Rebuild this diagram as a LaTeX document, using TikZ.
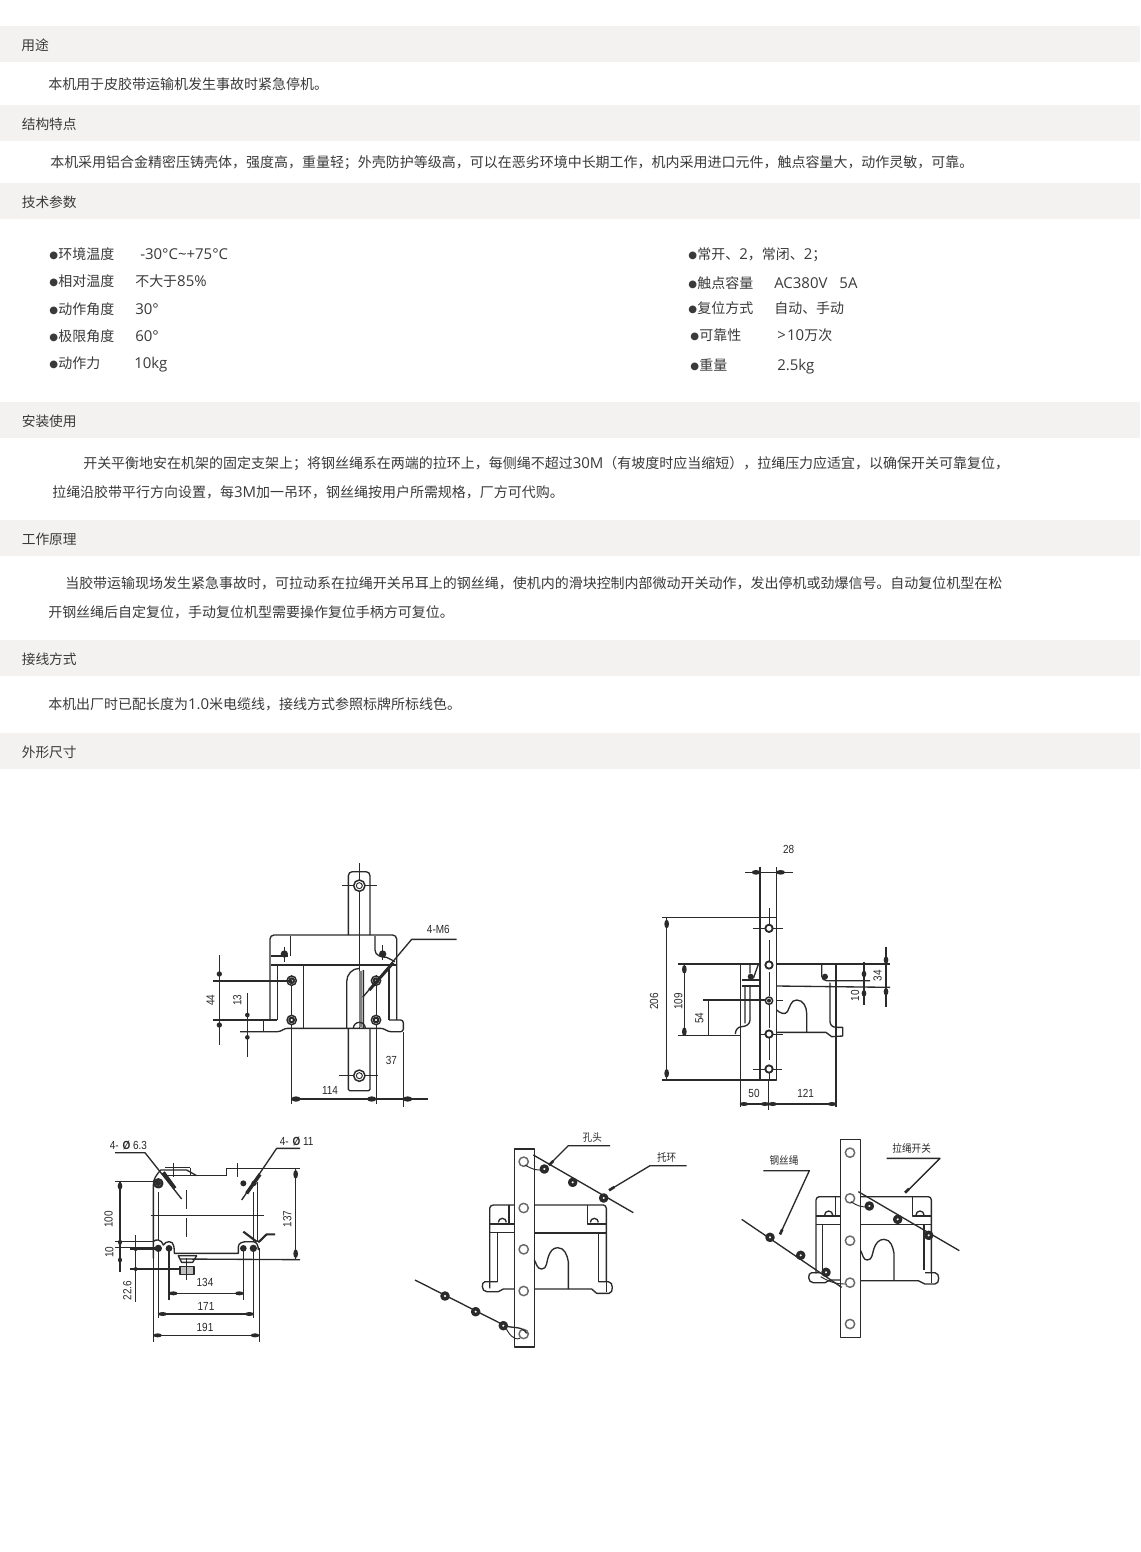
\documentclass[tikz,border=0pt]{standalone}
\usepackage{fontspec}
\setmainfont{Noto Sans CJK SC}
\newfontfamily\lat[Scale=1.07]{Open Sans}
\newfontfamily\sym[Scale=0.72]{DejaVu Sans}
\newfontfamily\dimf[FakeStretch=0.85]{Liberation Sans}
\newfontfamily\dimc{Noto Sans CJK SC}
\newcommand{\La}[1]{{\lat #1}}
\newcommand{\Bu}{\raisebox{.8pt}{\sym ●}\hspace{.2pt}}
\usetikzlibrary{arrows.meta}
\definecolor{band}{HTML}{F3F2F1}
\definecolor{txt}{HTML}{3A3A3A}
\definecolor{ink}{HTML}{2A2A2A}
\tikzset{
  headband/.style={fill=band,draw=none},
  headtxt/.style={anchor=base west,yshift=-3.8pt,inner sep=0pt,text=txt,font=\fontsize{10.3}{12}\selectfont},
  bodytxt/.style={anchor=base west,yshift=-4.3pt,inner sep=0pt,text=txt,font=\fontsize{10.49}{12}\selectfont},
  dwg/.style={x=.25pt,y=-.25pt,line width=1pt,draw=ink,line join=round},
  thin line/.style={line width=.7pt},
  dimlab/.style={inner sep=0pt,text=ink,font=\dimf\fontsize{8.8}{10}\selectfont},
  cnlab/.style={inner sep=0pt,text=ink,font=\dimc\fontsize{8}{9}\selectfont,xscale=.9},
  hole/.style={line width=1.1pt,fill=white},
  knot/.style={line width=2.6pt,fill=white},
}
\begin{document}
\begin{tikzpicture}[x=.75pt,y=-.75pt]
\useasboundingbox (0,0) rectangle (1140,1552);
\fill[white] (0,0) rectangle (1140,1552);
% ---------- bands
\foreach \y in {26,105,183,402,520,640,733} \fill[headband] (0,\y) rectangle (1140,\y+36);
\node[headtxt] (h1) at (21,45) {用途};
\node[headtxt] (h2) at (21.5,124) {结构特点};
\node[headtxt] (h3) at (21.5,202) {技术参数};
\node[headtxt] (h4) at (21.5,421) {安装使用};
\node[headtxt] (h5) at (21.5,539) {工作原理};
\node[headtxt] (h6) at (21.5,659) {接线方式};
\node[headtxt] (h7) at (21.5,752) {外形尺寸};
% ---------- body
\node[bodytxt] (b1) at (48,84) {本机用于皮胶带运输机发生事故时紧急停机。};
\node[bodytxt] (b2) at (50,162) {本机采用铝合金精密压铸壳体，强度高，重量轻；外壳防护等级高，可以在恶劣环境中长期工作，机内采用进口元件，触点容量大，动作灵敏，可靠。};
\node[bodytxt] (b3) at (83,463) {开关平衡地安在机架的固定支架上；将钢丝绳系在两端的拉环上，每侧绳不超过\La{30M}（有坡度时应当缩短），拉绳压力应适宜，以确保开关可靠复位，};
\node[bodytxt] (b4) at (52,492) {拉绳沿胶带平行方向设置，每\La{3M}加一吊环，钢丝绳按用户所需规格，厂方可代购。};
\node[bodytxt] (b5) at (65,583) {当胶带运输现场发生紧急事故时，可拉动系在拉绳开关吊耳上的钢丝绳，使机内的滑块控制内部微动开关动作，发出停机或劲爆信号。自动复位机型在松};
\node[bodytxt] (b6) at (48,612) {开钢丝绳后自定复位，手动复位机型需要操作复位手柄方可复位。};
\node[bodytxt] (b7) at (48,704) {本机出厂时已配长度为\La{1.0}米电缆线，接线方式参照标牌所标线色。};
% ---------- parameters left
\node[bodytxt] (p1) at (49,254) {\Bu 环境温度};
\node[bodytxt] (v1) at (140,254) {\La{-30°C\char"007E+75°C}};
\node[bodytxt] (p2) at (49,281) {\Bu 相对温度};
\node[bodytxt] (v2) at (135,281) {不大于\La{85\%}};
\node[bodytxt] (p3) at (49,309) {\Bu 动作角度};
\node[bodytxt] (v3) at (135,309) {\La{30°}};
\node[bodytxt] (p4) at (49,336) {\Bu 极限角度};
\node[bodytxt] (v4) at (135,336) {\La{60°}};
\node[bodytxt] (p5) at (49,363) {\Bu 动作力};
\node[bodytxt] (v5) at (134,363) {\La{10kg}};
% ---------- parameters right
\node[bodytxt] (q1) at (688,254) {\Bu 常开、\La{2}，常闭、\La{2}；};
\node[bodytxt] (q2) at (688,283) {\Bu 触点容量};
\node[bodytxt] (w2) at (774,283) {\La{AC380V\hspace{9pt}5A}};
\node[bodytxt] (q3) at (688,308) {\Bu 复位方式};
\node[bodytxt] (w3) at (774,308) {自动、手动};
\node[bodytxt] (q4) at (690,335) {\Bu 可靠性};
\node[bodytxt] (w4) at (777,335) {\La{>\hspace{1pt}10}万次};
\node[bodytxt] (q5) at (690,365) {\Bu 重量};
\node[bodytxt] (w5) at (777,365) {\La{2.5kg}};

% ========== drawing 1 (front)
\begin{scope}[shift={(190,850)},dwg]
\draw[rounded corners=3pt] (475,255)--(475,65)--(540,65)--(540,255);
\draw[rounded corners=1pt] (475,535)--(475,722)--(540,722)--(540,535);
\draw[rounded corners=3pt] (240,510)--(240,255)--(620,255)--(620,510);
\draw (262,510)--(262,345) (597,510)--(597,345);
\draw (243,345)--(618,345) (243,318)--(295,318) (302,258)--(302,318);
\draw (555,258)--(555,300) to[out=-90,in=180] (590,322)--(615,335);
\draw[rounded corners=2pt] (150,545)--(270,545)--(285,535)--(580,535)--(595,545)--(640,545)--(640,510)--(597,510);
\draw (220,510)--(262,510) (220,510)--(220,545) (340,345)--(340,535);
\draw[thin line] (305,375)--(305,762) (558,375)--(558,762) (640,545)--(640,770) (508,40)--(508,535);
\draw[thin line] (455,107)--(560,107) (448,677)--(565,677);
\draw (470,535)--(470,395) to[out=90,in=180] (508,355) (520,360)--(520,535);
\draw[line width=2pt,gray] (512,362)--(512,530);
\draw (490,535) arc (180:360:18);
\foreach \p in {(508,107),(508,677)} {\draw[hole] \p circle (17); \draw[thin line] \p circle (9);}
\foreach \p in {(305,392),(305,510),(558,392),(558,510)} {\draw[hole] \p circle (14); \draw[line width=1.6pt] \p circle (7);}
\foreach \p in {(283,312),(578,312)} \fill[ink] \p circle (11);
\draw[thin line] (283,290)--(283,335) (578,285)--(578,330);
% leader
\draw (800,268)--(665,268)--(518,442);
\draw[line width=2.2pt] (538,420)--(610,338);
% dims
\draw[line width=1.4pt] (70,392)--(305,392);
\draw (70,510)--(240,510);
\draw (88,315)--(88,585);
\fill[ink] (88,372) circle (8) (88,525) circle (8);
\draw (172,430)--(172,620);
\fill[ink] (172,495) circle (7) (172,562) circle (7);
\draw (305,747)--(715,747);
\fill[ink] (318,747) ellipse (14 and 8) (545,747) ellipse (14 and 8) (653,747) ellipse (14 and 8);
\node[dimlab,rotate=90] (d44) at (62,450) {44};
\node[dimlab,rotate=90] (d13) at (142,450) {13};
\node[dimlab] (d114) at (420,720) {114};
\node[dimlab] (d37) at (604,632) {37};
\node[dimlab] (dm6) at (745,238) {4-M6};
\end{scope}

% ========== drawing 2 (side)
\begin{scope}[shift={(630,830)},dwg]
\draw (390,110)--(390,750)--(440,750)--(440,110);
\draw (345,127)--(490,127);
\fill[ink] (378,127) ellipse (13 and 7) (452,127) ellipse (13 and 7);
\draw (95,262)--(440,262) (95,750)--(390,750);
\draw (110,262)--(110,750);
\fill[ink] (110,282) ellipse (7 and 13) (110,730) ellipse (7 and 13);
\draw[line width=1.3pt] (145,403)--(390,403) (440,403)--(780,403);
\draw (163,403)--(163,617);
\fill[ink] (163,418) ellipse (7 and 13) (163,605) ellipse (7 and 13);
\draw (220,510)--(410,510) (235,510)--(235,617) (145,617)--(330,617);
\draw (332,403)--(332,830) (618,403)--(618,830);
\draw (360,403)--(360,430) (385,403)--(370,445);
\draw (335,450)--(390,450) (335,468)--(390,468);
\draw (575,403)--(575,438) to[out=-90,in=180] (590,452)--(720,452);
\draw (440,468)--(780,472);
\draw (345,468)--(345,580) (360,468)--(360,570) to[out=-90,in=0] (335,590) to[out=180,in=90] (316,612);
\draw (600,458)--(600,575) to[out=-90,in=180] (618,592)--(638,592)--(638,618)--(605,620)--(588,607)--(440,607);
\draw (440,540) to[out=-45,in=-120] (472,545) to[out=60,in=180] (500,510) to[out=0,in=90] (530,550)--(530,607);
\fill[ink] (362,440) circle (9) (585,440) circle (9);
\draw[thin line,dash pattern=on 18pt off 6pt] (417,235)--(417,750);
\draw[thin line] (415,750)--(415,840) (368,295)--(458,295) (368,717)--(455,717) (440,512)--(458,512) (390,612)--(458,612);
\foreach \p in {(417,295),(417,405),(417,612),(417,717)} {\draw[hole,line width=1.4pt] \p circle (11);}
\draw[hole] (417,512) circle (11);
\fill[ink] (417,512) circle (6);
\draw[line width=1.1pt] (702,395)--(702,525);
\fill[ink] (702,432) ellipse (7 and 10) (702,490) ellipse (7 and 10);
\draw[line width=1.1pt] (768,350)--(768,530);
\fill[ink] (768,390) ellipse (7 and 11) (768,485) ellipse (7 and 11);
\draw (330,822)--(618,822);
\fill[ink] (342,822) ellipse (13 and 6) (405,822) ellipse (13 and 6) (428,822) ellipse (13 and 6) (606,822) ellipse (13 and 6);
\node[dimlab] (s28) at (476,58) {28};
\node[dimlab,rotate=90] (s206) at (72,515) {206};
\node[dimlab,rotate=90] (s109) at (145,515) {109};
\node[dimlab,rotate=90] (s54) at (208,565) {54};
\node[dimlab,rotate=90] (s34) at (743,437) {34};
\node[dimlab,rotate=90] (s10) at (675,497) {10};
\node[dimlab] (s50) at (372,790) {50};
\node[dimlab] (s121) at (527,790) {121};
\end{scope}

% ========== drawing 3 (plan)
\begin{scope}[shift={(90,1125)},dwg]
\draw (190,400)--(190,370) to[out=90,in=-90] (190,350) (190,350) to[out=60,in=180] (205,345) to[out=0,in=120] (220,360) to[out=60,in=180] (238,350) to[out=0,in=90] (253,385)--(445,385)--(445,365) to[out=90,in=180] (470,350)--(490,350) (490,350) to[out=0,in=90] (505,375);
\draw (190,350)--(190,180) to[out=90,in=-130] (212,135)--(290,135)--(320,152);
\draw (205,345)--(205,200);
\draw (225,152)--(410,152) (410,152)--(410,130)--(630,130);
\draw (490,350)--(490,200) (503,350)--(503,170);
\draw[line width=.7pt] (225,128)--(300,128) (300,128)--(300,152);
\draw (75,170)--(205,170);
\draw (75,350)--(190,350) (75,368)--(205,368) (120,372)--(205,372) (120,432)--(270,432);
\draw (90,170)--(90,440);
\fill[ink] (90,183) ellipse (7 and 11) (90,352) ellipse (6 and 8) (90,405) ellipse (6 and 8);
\draw (137,330)--(137,530);
\fill[ink] (137,372) circle (6) (137,432) circle (6);
\draw (205,368)--(205,580) (237,368)--(237,525) (460,368)--(460,525) (490,368)--(490,580) (190,400)--(190,650) (508,370)--(508,650);
\draw (237,505)--(460,505);
\fill[ink] (250,505) ellipse (13 and 6) (448,505) ellipse (13 and 6);
\draw (205,567)--(490,567);
\fill[ink] (218,567) ellipse (13 and 6) (478,567) ellipse (13 and 6);
\draw (190,631)--(508,631);
\fill[ink] (203,631) ellipse (13 and 6) (495,631) ellipse (13 and 6);
\draw (270,402)--(630,404);
\draw (617,130)--(617,402);
\fill[ink] (617,148) ellipse (7 and 13) (617,386) ellipse (7 and 13);
\draw (182,272)--(522,272);
\draw[thin line,dash pattern=on 14pt off 7pt] (290,195)--(290,350);
\draw[thin line] (250,115)--(250,155) (442,115)--(442,155);
\draw (265,392)--(320,392)--(308,412)--(275,412)--cycle;
\draw[fill=gray!50,line width=.9pt] (270,425) rectangle (312,448);
\draw[line width=.6pt] (290,400)--(290,465);
\draw[line width=1.8pt] (205,175) circle (12);
\fill[ink] (205,175) circle (8);
\fill[ink] (460,175) circle (9) (492,175) circle (8);
\fill[ink] (205,370) circle (11) (237,370) circle (10) (460,370) circle (10) (490,370) circle (11);
\draw (75,83)--(165,83)--(275,222);
\draw[line width=2.6pt] (220,142)--(255,190);
\draw (630,70)--(560,70)--(455,225);
\draw[line width=2.6pt] (510,148)--(470,205);
\draw[line width=1.6pt] (460,320)--(500,350) (505,352)--(530,328)--(555,328);
\node[dimlab] (t63) at (115,60) {4-\hspace{3pt}{\bfseries Ø}\hspace{2pt}6.3};
\node[dimlab] (t11) at (620,48) {4-\hspace{3pt}{\bfseries Ø}\hspace{2pt}11};
\node[dimlab,rotate=90] (t100) at (56,283) {100};
\node[dimlab,rotate=90] (t10) at (58,382) {10};
\node[dimlab,rotate=90] (t226) at (112,497) {22.6};
\node[dimlab,rotate=90] (t137) at (592,282) {137};
\node[dimlab] (t134) at (345,472) {134};
\node[dimlab] (t171) at (348,543) {171};
\node[dimlab] (t191) at (345,608) {191};
\end{scope}

% ========== drawing 4
\begin{scope}[shift={(405,1125)},dwg]
\draw (254,490)--(254,250) to[out=90,in=180] (265,240)--(328,240) (388,240)--(595,240) to[out=0,in=90] (604,250)--(604,470);
\draw (278,320)--(278,470) (580,320)--(580,470);
\draw (254,297)--(328,297) (312,240)--(312,297) (548,240)--(548,297)--(604,297) (254,323)--(328,323);
\draw[line width=1.4pt] (388,323)--(604,323);
\draw (278,470)--(240,470) to[out=180,in=90] (232,485) to[out=-90,in=180] (245,500)--(280,500)--(295,492)--(328,492) (388,492)--(560,492)--(575,505)--(612,505) to[out=0,in=-90] (622,487) to[out=90,in=0] (610,470)--(580,470);
\draw (604,470)--(604,500);
\draw (388,405) to[out=-60,in=180] (410,432) to[out=0,in=-110] (430,395) to[out=70,in=180] (458,368) to[out=0,in=100] (490,410)--(490,492);
\draw (280,292) arc (180:360:12) (556,292) arc (180:360:12);
\draw[line width=1.2pt] (328,72) rectangle (388,666);
\foreach \p in {(356,110),(356,249),(356,373),(356,498),(356,627)} \draw[hole,draw=ink!70] \p circle (14);
% wires
\draw (385,90)--(685,263);
\draw[line width=.7pt] (360,120) to[out=-30,in=200] (418,132);
\draw (30,465)--(300,602) to[out=-20,in=120] (365,625);
\draw[line width=.7pt] (300,605) to[out=-60,in=200] (345,640);
\foreach \p in {(418,132),(503,172),(596,219),(120,513),(212,560),(295,602)} \draw[knot] \p circle (9);
\draw (615,62)--(490,62)--(440,112);
\draw[line width=2pt] (445,108)--(432,121);
\draw (845,122)--(735,122)--(625,188);
\draw[line width=2pt] (628,186)--(612,196);
\node[cnlab] (n1) at (562,36) {孔头};
\node[cnlab] (n2) at (785,98) {托环};
\end{scope}

% ========== drawing 5
\begin{scope}[shift={(730,1130)},dwg]
\draw (258,430)--(258,210) to[out=90,in=180] (268,200)--(332,200) (392,200)--(595,200) to[out=0,in=90] (604,210)--(604,430);
\draw (278,285)--(278,430) (582,285)--(582,420);
\draw (258,258)--(332,258) (316,200)--(316,258) (548,200)--(548,258)--(604,258) (258,283)--(332,283) (392,283)--(604,283);
\draw (284,255) arc (180:360:12) (558,255) arc (180:360:12);
\draw (270,428)--(245,428) to[out=180,in=90] (236,443) to[out=-90,in=180] (250,458)--(285,458)--(300,450)--(332,450) (392,452)--(565,452)--(585,462)--(615,462) to[out=0,in=-90] (626,445) to[out=90,in=0] (615,428)--(585,428);
\draw (604,428)--(604,460);
\draw (392,362) to[out=-60,in=180] (412,390) to[out=0,in=-110] (432,355) to[out=70,in=180] (462,328) to[out=0,in=100] (492,370)--(492,452);
\draw[line width=1.2pt] (332,28) rectangle (392,622);
\foreach \p in {(360,68),(360,205),(360,332),(360,458),(360,582)} \draw[hole,draw=ink!70] \p circle (14);
\draw (385,185)--(688,362);
\draw[line width=.7pt] (362,215) to[out=-30,in=200] (418,228);
\draw (35,268)--(335,472);
\draw[line width=.7pt] (272,440) to[out=-30,in=180] (345,462);
\foreach \p in {(418,228),(503,268),(596,316),(120,322),(212,376),(288,427)} \draw[knot] \p circle (9);
\draw (470,85)--(630,85)--(530,185);
\draw[line width=2pt] (537,176)--(525,188);
\draw (100,122)--(238,122)--(150,313);
\draw[line width=2pt] (157,298)--(150,313);
\node[cnlab] (n3) at (545,55) {拉绳开关};
\node[cnlab] (n4) at (162,92) {钢丝绳};
\end{scope}
\end{tikzpicture}
\end{document}
